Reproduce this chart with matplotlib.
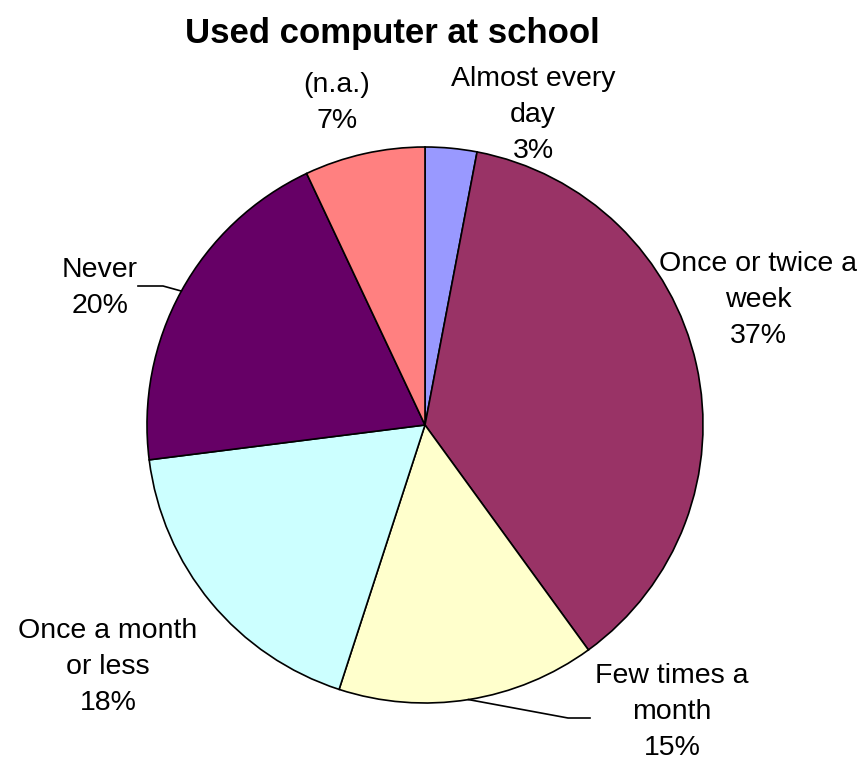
import numpy as np
import matplotlib
matplotlib.use("Agg")
import matplotlib.pyplot as plt

title = "Used computer at school"
categories = ["Almost every\nday", "Once or twice a\nweek", "Few times a\nmonth",
              "Once a month\nor less", "Never", "(n.a.)"]
shares = [3, 37, 15, 18, 20, 7]
colors = ["#9999FF", "#993366", "#FFFFCC", "#CCFFFF", "#660066", "#FF8080"]

W, H = 861, 766
fig = plt.figure(figsize=(W / 100, H / 100), dpi=100)
ax = fig.add_axes([0, 0, 1, 1])

cx, cy, R = 425, H - 425, 278
wedges, _ = ax.pie(shares, colors=colors, startangle=90, counterclock=False,
                   center=(cx, cy), radius=R, frame=True,
                   wedgeprops=dict(edgecolor="black", linewidth=1.2))
ax.set_xlim(0, W)
ax.set_ylim(0, H)
ax.set_aspect("equal")
ax.axis("off")

ax.text(392, H - 43, title, ha="center", va="baseline",
        fontsize=25, fontweight="bold", family="Liberation Sans")

# label anchors: centre x and last-line baseline (pixels from top-left)
label_pos = [(533, 158), (758, 343), (672, 755), (108, 710), (100, 313), (337, 128)]
# leader elbows for labels placed away from their slice
leaders = {2: [(568, 718), (590, 718)], 4: [(163, 286), (138, 286)]}

total = sum(shares)
cum = 0
for i, (lab, v) in enumerate(zip(categories, shares)):
    mid = 90 - 360 * (cum + v / 2) / total
    cum += v
    pct = f"{round(100 * v / total)}%"
    x, y = label_pos[i]
    ax.text(x, H - y, f"{lab}\n{pct}", ha="center", va="baseline",
            fontsize=20.5, family="Liberation Sans", linespacing=1.5,
            color="black")
    if i in leaders:
        a = np.deg2rad(mid)
        sx, sy = cx + R * np.cos(a), cy + R * np.sin(a)
        pts = [(sx, sy)] + [(px, H - py) for px, py in leaders[i]]
        ax.plot([p[0] for p in pts], [p[1] for p in pts], color="black", lw=1.2)

fig.savefig("out.png", dpi=100, facecolor="white")
